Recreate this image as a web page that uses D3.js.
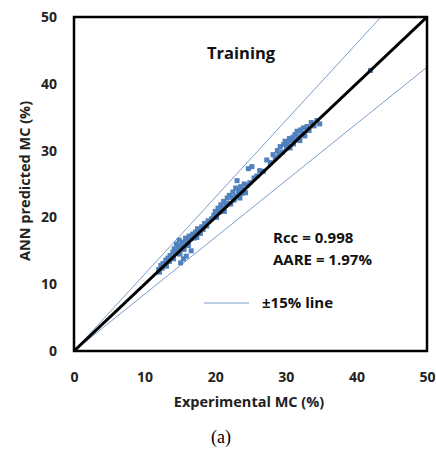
<!DOCTYPE html>
<html><head><meta charset="utf-8">
<script src="https://cdn.jsdelivr.net/npm/d3@7"></script>
<style>body{margin:0;background:#fff}</style>
</head><body>
<svg id="c" width="436" height="453"></svg>
<script>
const xTicks = [0, 10, 20, 30, 40, 50];
const yTicks = [0, 10, 20, 30, 40, 50];
const expMC = [12.0,12.1,12.3,12.5,12.6,12.8,13.0,13.1,13.3,13.5,13.6,13.8,14.0,14.1,14.2,14.4,14.5,14.6,14.8,14.9,15.0,15.1,15.2,15.4,15.5,15.6,15.8,15.9,16.0,16.2,16.3,16.5,16.6,16.8,17.0,17.2,17.4,17.5,17.7,17.9,18.1,18.3,18.5,18.8,19.0,
19.5,19.8,20.0,20.2,20.4,20.6,20.8,21.0,21.2,21.3,21.5,21.7,21.9,22.0,22.2,22.4,22.5,22.7,22.9,23.0,23.1,23.3,23.5,23.6,23.8,24.0,24.1,24.3,24.5,24.7,24.9,25.2,25.5,25.9,26.3,26.8,27.3,27.8,
28.2,28.5,28.8,29.0,29.2,29.5,29.7,29.9,30.1,30.3,30.5,30.6,30.8,31.0,31.1,31.3,31.5,31.6,31.8,32.0,32.1,32.3,32.5,32.7,33.0,33.3,33.6,34.0,34.4,34.8,42.0];
const annMC = [12.2,11.8,12.8,12.4,13.1,12.9,13.6,12.7,13.9,13.4,14.3,14.0,14.8,13.8,15.3,14.6,16.0,15.1,15.6,16.6,14.5,13.2,15.8,16.3,13.8,15.2,16.9,14.2,16.4,15.8,17.2,16.8,15.0,17.5,16.9,17.8,17.0,18.3,18.0,17.6,18.6,18.2,19.1,18.7,19.5,
19.8,20.3,20.9,20.0,21.4,20.8,21.9,21.3,22.4,20.9,21.8,22.9,22.1,23.3,22.0,23.0,23.8,22.6,24.4,23.2,25.5,23.9,22.9,24.6,23.6,24.2,25.0,23.7,24.8,27.3,25.2,27.6,25.9,26.2,27.0,26.9,28.6,28.2,
29.4,28.9,30.0,29.4,30.6,29.8,30.9,31.4,30.5,31.1,31.8,30.4,31.5,32.0,31.0,32.4,31.6,32.9,32.1,31.5,33.1,32.6,33.4,32.2,33.6,33.0,34.2,33.7,34.5,34.0,42.0];
const bandFactors = [1.15, 0.85];

const svg = d3.select("#c");
const x = d3.scaleLinear().domain([0, 50]).range([74, 427]);
const y = d3.scaleLinear().domain([0, 50]).range([351, 17]);
const font = "'Open Sans', sans-serif";

svg.append("clipPath").attr("id", "clip").append("rect")
  .attr("x", 74).attr("y", 17).attr("width", 353).attr("height", 334);

const g = svg.append("g").attr("clip-path", "url(#clip)");
bandFactors.forEach(f => {
  g.append("line").attr("x1", x(0)).attr("y1", y(0)).attr("x2", x(60)).attr("y2", y(60 * f))
    .attr("stroke", "#7c9dc8").attr("stroke-width", 1);
});

g.selectAll("rect.pt").data(expMC).enter().append("rect").attr("class", "pt")
  .attr("x", (d) => x(d) - 2.5).attr("y", (d, i) => y(annMC[i]) - 2.5)
  .attr("width", 5).attr("height", 5).attr("fill", "#4f81bd");

g.append("line").attr("x1", x(0)).attr("y1", y(0)).attr("x2", x(50)).attr("y2", y(50))
  .attr("stroke", "#000").attr("stroke-width", 3);

svg.append("rect").attr("x", 74).attr("y", 17).attr("width", 353).attr("height", 334)
  .attr("fill", "none").attr("stroke", "#000").attr("stroke-width", 2.5);

const xa = svg.append("g").attr("transform", "translate(0,351)")
  .call(d3.axisBottom(x).tickValues(xTicks).tickSize(0).tickPadding(21));
const ya = svg.append("g").attr("transform", "translate(74,0)")
  .call(d3.axisLeft(y).tickValues(yTicks).tickSize(0).tickPadding(17));
[xa, ya].forEach(a => {
  a.select(".domain").remove();
  a.selectAll("text").attr("font-family", font).attr("font-weight", "bold")
    .attr("font-size", 14).attr("fill", "#222");
});

svg.append("text").attr("x", 249).attr("y", 407).attr("text-anchor", "middle")
  .attr("font-family", font).attr("font-weight", "bold").attr("font-size", 14.5).attr("fill", "#222")
  .text("Experimental MC (%)");
svg.append("text").attr("transform", "translate(30,181) rotate(-90)").attr("text-anchor", "middle")
  .attr("font-family", font).attr("font-weight", "bold").attr("font-size", 14.5).attr("fill", "#222")
  .text("ANN predicted MC (%)");
svg.append("text").attr("x", 221).attr("y", 443).attr("text-anchor", "middle")
  .attr("font-family", "'Liberation Serif', serif").attr("font-size", 18).attr("fill", "#000")
  .text("(a)");

svg.append("text").attr("x", 207).attr("y", 59)
  .attr("font-family", font).attr("font-weight", "bold").attr("font-size", 16.5).attr("fill", "#111")
  .text("Training");
svg.append("text").attr("x", 273).attr("y", 243)
  .attr("font-family", font).attr("font-weight", "bold").attr("font-size", 15).attr("fill", "#111")
  .text("Rcc = 0.998");
svg.append("text").attr("x", 273).attr("y", 265)
  .attr("font-family", font).attr("font-weight", "bold").attr("font-size", 15).attr("fill", "#111")
  .text("AARE = 1.97%");
svg.append("line").attr("x1", 204).attr("x2", 249).attr("y1", 303).attr("y2", 303)
  .attr("stroke", "#7c9dc8").attr("stroke-width", 1);
svg.append("text").attr("x", 262).attr("y", 308)
  .attr("font-family", font).attr("font-weight", "bold").attr("font-size", 15).attr("fill", "#111")
  .text("±15% line");
</script>
</body></html>
